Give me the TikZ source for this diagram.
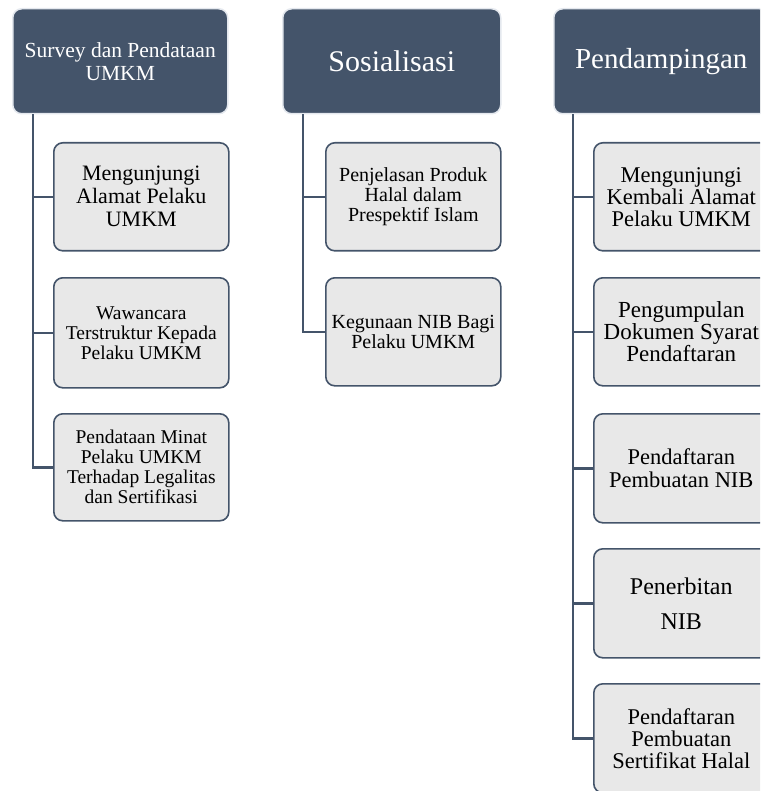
\documentclass[tikz,border=0pt]{standalone}
\usepackage{fontspec}
\setmainfont{Liberation Serif}
\definecolor{slate}{HTML}{44546A}
\definecolor{lightbox}{HTML}{E8E8E8}
\definecolor{hdredge}{HTML}{E4E8EE}
\tikzset{
  hdr/.style={anchor=north west, draw=hdredge, line width=1.5pt, fill=slate, rounded corners=9pt,
    minimum width=215pt, minimum height=105pt, inner sep=0pt, text=white, align=center},
  sub/.style={anchor=north west, draw=slate, line width=1.6pt, fill=lightbox, rounded corners=9pt,
    minimum width=175pt, minimum height=108pt, inner sep=0pt, text=black, align=center},
  fs/.style 2 args={font=\fontsize{#1}{#2}\selectfont},
  conn/.style={draw=slate, line width=2.4pt}
}
\begin{document}
\begin{tikzpicture}[x=1pt,y=-1pt]
\useasboundingbox (0,0) rectangle (760,791);
\clip (0,0) rectangle (760,791);
% headers
\node[hdr, fs={21.5}{23}] (h1) at (12,8) {Survey dan Pendataan\\UMKM};
\node[hdr, minimum width=218pt, fs={30}{32}] (h2) at (282,8) {Sosialisasi};
\node[hdr, fs={29}{32}] (h3) at (553,8) {Pendampingan};
% column 1
\node[sub, fs={22}{23}] (a1) at (53,142) {Mengunjungi\\Alamat Pelaku\\UMKM};
\node[sub, minimum height=110pt, fs={19.5}{20}] (a2) at (53,277) {Wawancara\\Terstruktur Kepada\\Pelaku UMKM};
\node[sub, minimum height=107pt, fs={19.5}{20}] (a3) at (53,413) {Pendataan Minat\\Pelaku UMKM\\Terhadap Legalitas\\dan Sertifikasi};
% column 2
\node[sub, fs={20}{20}] (b1) at (325,142) {Penjelasan Produk\\Halal dalam\\Prespektif Islam};
\node[sub, fs={20}{20}] (b2) at (325,277) {Kegunaan NIB Bagi\\Pelaku UMKM};
% column 3
\node[sub, fs={22.5}{22}] (c1) at (593,142) {Mengunjungi\\Kembali Alamat\\Pelaku UMKM};
\node[sub, fs={23}{22}] (c2) at (593,277) {Pengumpulan\\Dokumen Syarat\\Pendaftaran};
\node[sub, minimum height=109pt, fs={22.5}{23}] (c3) at (593,413) {Pendaftaran\\Pembuatan NIB};
\node[sub, minimum height=109pt, fs={24}{35}] (c4) at (593,548) {Penerbitan\\NIB};
\node[sub, minimum height=109pt, fs={22.5}{22}] (c5) at (593,683) {Pendaftaran\\Pembuatan\\Sertifikat Halal};
% trunk points
\coordinate (t1) at ([xshift=21pt]h1.south west);
\coordinate (t2) at ([xshift=21pt]h2.south west);
\coordinate (t3) at ([xshift=20pt]h3.south west);
% connectors
\draw[conn] (t1) |- (a3.west);
\foreach \c in {a1,a2} \draw[conn] (t1 |- \c.west) -- (\c.west);
\draw[conn] (t2) |- (b2.west);
\draw[conn] (t2 |- b1.west) -- (b1.west);
\draw[conn] (t3) |- (c5.west);
\foreach \c in {c1,c2,c3,c4} \draw[conn] (t3 |- \c.west) -- (\c.west);
\end{tikzpicture}
\end{document}
